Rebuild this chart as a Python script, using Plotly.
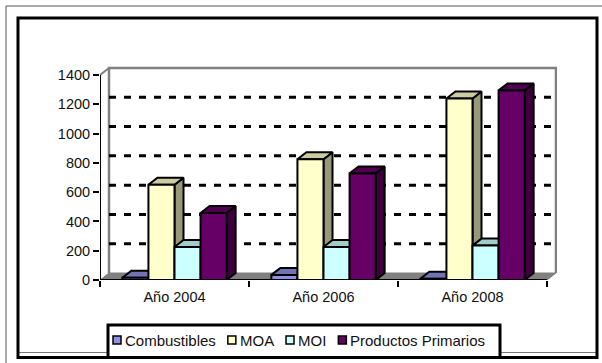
import plotly.graph_objects as go

# --- data -------------------------------------------------------------
categories = ["Año 2004", "Año 2006", "Año 2008"]
series_names = ["Combustibles", "MOA", "MOI", "Productos Primarios"]
combustibles = [15, 35, 8]
moa = [650, 825, 1240]
moi = [225, 225, 235]
productos_primarios = [458, 728, 1295]
y_ticks = [0, 200, 400, 600, 800, 1000, 1200, 1400]

series_values = [combustibles, moa, moi, productos_primarios]
front_colors = ["#9090E0", "#FFFFCC", "#CCFFFF", "#660066"]

# --- geometry of the pseudo-3D frame ------------------------------------
W, H = 602, 363
LEFT, TOP, BOTTOM = 100, 66, 280          # plot area edges in px
PX_PER_CAT = 149.0                         # px per category on x
PX_PER_VAL = 205.0 / 1400.0                # px per unit on y
DEPTH_X_PX, DEPTH_Y_PX = 9.0, 7.0          # oblique depth offset

n_cat = len(categories)
x_min = -0.5
x_max = n_cat - 0.5 + 10.0 / PX_PER_CAT
plot_w = (x_max - x_min) * PX_PER_CAT
right_margin = W - LEFT - plot_w
y_max = (BOTTOM - TOP) / PX_PER_VAL
DX = DEPTH_X_PX / PX_PER_CAT
DY = DEPTH_Y_PX / PX_PER_VAL
y_top = y_ticks[-1]

GROUP_W = 0.7
BAR_W = GROUP_W / len(series_names)


def shade(hex_color, k):
    h = hex_color.lstrip("#")
    r, g, b = (int(h[i:i + 2], 16) for i in (0, 2, 4))
    return "#%02X%02X%02X" % (int(r * k), int(g * k), int(b * k))


def px_x(px):
    return (px - LEFT) / plot_w


def px_y(py):
    return (BOTTOM - py) / (BOTTOM - TOP)


fig = go.Figure()

# side and top faces of each column (drawn beneath the front faces)
for j, (name, vals, col) in enumerate(zip(series_names, series_values, front_colors)):
    sx, sy, tx, ty = [], [], [], []
    for i, v in enumerate(vals):
        left = i - GROUP_W / 2 + j * BAR_W
        right = left + BAR_W
        sx += [right, right, right + DX, right + DX, right, None]
        sy += [0, v, v + DY, DY, 0, None]
        tx += [left, right, right + DX, left + DX, left, None]
        ty += [v, v, v + DY, v + DY, v, None]
    for xs, ys, fc in ((sx, sy, shade(col, 0.6)), (tx, ty, shade(col, 0.8))):
        fig.add_trace(go.Scatter(
            x=xs, y=ys, mode="lines", fill="toself", fillcolor=fc,
            line=dict(color="black", width=2), showlegend=False,
            hoverinfo="skip", zorder=0,
        ))

# front faces
for j, (name, vals, col) in enumerate(zip(series_names, series_values, front_colors)):
    fig.add_trace(go.Bar(
        x=list(range(n_cat)), y=vals, name=name,
        width=BAR_W, offset=-GROUP_W / 2 + j * BAR_W,
        marker=dict(color=col, line=dict(color="black", width=2)),
        showlegend=False, zorder=1,
    ))

shapes = []
grey = "#808080"
# floor
shapes.append(dict(
    type="path", xref="x", yref="y", layer="below",
    path=f"M {x_min},0 L {n_cat - 0.5},0 L {n_cat - 0.5 + DX},{DY} L {x_min + DX},{DY} Z",
    fillcolor=grey, line=dict(color=grey, width=1),
))
# back wall outline and left wall top edge
shapes.append(dict(
    type="path", xref="x", yref="y", layer="below",
    path=(f"M {x_min + DX},{DY} L {x_min + DX},{y_top + DY} "
          f"L {n_cat - 0.5 + DX},{y_top + DY} L {n_cat - 0.5 + DX},{DY}"),
    line=dict(color=grey, width=2.5),
))
shapes.append(dict(
    type="line", xref="x", yref="y", layer="below",
    x0=x_min, y0=y_top, x1=x_min + DX, y1=y_top + DY,
    line=dict(color=grey, width=2),
))
# dashed gridlines on the back wall
for v in y_ticks[1:-1]:
    shapes.append(dict(
        type="line", xref="x", yref="y", layer="below",
        x0=x_min + DX, y0=v + DY, x1=n_cat - 0.5 + DX, y1=v + DY,
        line=dict(color="black", width=3, dash="7px,8px"),
    ))
# axis lines
shapes.append(dict(type="line", xref="x", yref="y", x0=x_min, y0=0, x1=x_min, y1=y_top,
                   line=dict(color="black", width=2)))
shapes.append(dict(type="line", xref="x", yref="y", x0=x_min, y0=0, x1=n_cat - 0.5, y1=0,
                   line=dict(color="black", width=2)))

# page frame
shapes.append(dict(type="line", xref="paper", yref="paper",
                   x0=px_x(6), y0=px_y(6), x1=px_x(6), y1=px_y(363),
                   line=dict(color="#555555", width=1)))
shapes.append(dict(type="line", xref="paper", yref="paper",
                   x0=px_x(6), y0=px_y(6), x1=px_x(602), y1=px_y(6),
                   line=dict(color="#555555", width=1)))
shapes.append(dict(type="line", xref="paper", yref="paper",
                   x0=px_x(19), y0=px_y(352.5), x1=px_x(596), y1=px_y(352.5),
                   line=dict(color="#777777", width=1)))
shapes.append(dict(type="rect", xref="paper", yref="paper",
                   x0=px_x(18), y0=px_y(18), x1=px_x(597), y1=px_y(357.5),
                   line=dict(color="black", width=3)))

# legend
LEG_FONT = 15
ARIAL = {"C": .722, "o": .556, "m": .833, "b": .556, "u": .556, "s": .5, "t": .278,
         "i": .222, "l": .222, "e": .556, "M": .833, "O": .778, "A": .667, "I": .278,
         "P": .667, "r": .333, "d": .556, "c": .5, " ": .278, "a": .556}


def text_w(s):
    return sum(ARIAL.get(ch, .556) for ch in s) * LEG_FONT


shapes.append(dict(type="rect", xref="paper", yref="paper",
                   x0=px_x(108), y0=px_y(325), x1=px_x(500), y1=px_y(357.5),
                   fillcolor="white", line=dict(color="black", width=3)))
annotations = []
leg_y = 340
cx = 113
for name, col in zip(series_names, front_colors):
    shapes.append(dict(type="rect", xref="paper", yref="paper",
                       x0=px_x(cx), y0=px_y(leg_y + 4), x1=px_x(cx + 8), y1=px_y(leg_y - 4),
                       fillcolor=col, line=dict(color="black", width=1.5)))
    annotations.append(dict(xref="paper", yref="paper", x=px_x(cx + 10), y=px_y(leg_y),
                            xanchor="left", yanchor="middle", showarrow=False,
                            text=name, font=dict(size=LEG_FONT, color="#111111")))
    cx = cx + 11 + text_w(name) + 13

fig.update_layout(
    width=W, height=H, autosize=False,
    margin=dict(l=LEFT, r=right_margin, t=TOP, b=H - BOTTOM, pad=0),
    paper_bgcolor="white", plot_bgcolor="white",
    font=dict(family="Liberation Sans, Arial, sans-serif", color="#111111", size=14.5),
    showlegend=False, shapes=shapes, annotations=annotations,
    xaxis=dict(range=[x_min, x_max], tickvals=list(range(n_cat)), ticktext=categories,
               ticks="", showgrid=False, zeroline=False, showline=False,
               ticklabelstandoff=6,
               minor=dict(tickvals=[k - 0.5 for k in range(n_cat + 1)], ticks="outside",
                          ticklen=6, tickwidth=2, tickcolor="black", showgrid=False)),
    yaxis=dict(range=[0, y_max], tickvals=y_ticks, ticks="outside", ticklen=6,
               tickwidth=2, tickcolor="black", showgrid=False, zeroline=False,
               showline=False),
)

fig.write_html("out.html")
